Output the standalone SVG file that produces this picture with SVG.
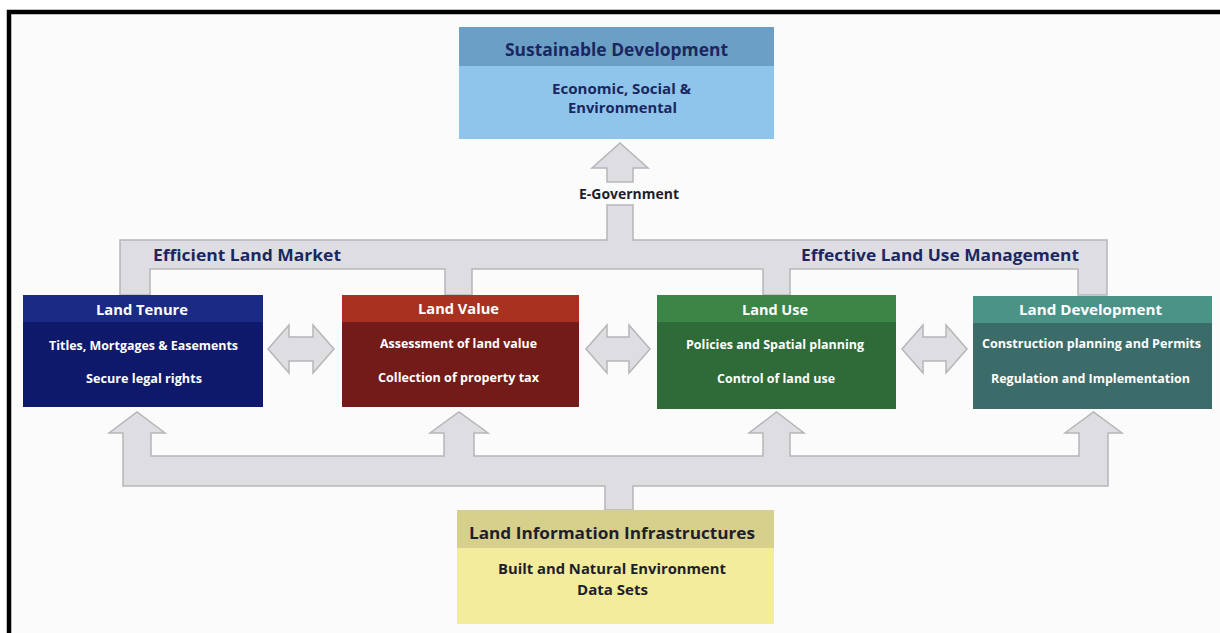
<svg xmlns="http://www.w3.org/2000/svg" width="1220" height="633" viewBox="0 0 1220 633">
<style>
text{font-family:"Open Sans",Lato,"Liberation Sans",sans-serif;font-weight:bold;text-anchor:middle}
.conn{fill:#dedee2;stroke:#b6b6ba;stroke-width:1.5;stroke-linejoin:miter}
.navy{fill:#1a2760}
.white{fill:#ffffff}
.dark{fill:#1e1e2c}
.t14{font-size:14px}
.t12{font-size:12.5px}
</style>
<rect width="1220" height="633" fill="#ffffff"/>
<rect x="11" y="14" width="1209" height="619" fill="#fbfbfb"/>
<path d="M9,633 V12 H1220" fill="none" stroke="#000" stroke-width="4.5"/>

<g id="connectors">
  <polygon class="conn" points="620,143 648,168 633,168 633,182 607,182 607,168 592,168"/>
  <polygon class="conn" points="120,295 120,240 607,240 607,205 633,205 633,240 1107,240 1107,295 1078,295 1078,269 790,269 790,295 763,295 763,269 472,269 472,295 445,295 445,269 150,269 150,295"/>
  <polygon class="conn" points="268,349 289,325 289,337 313,337 313,325 334,349 313,373 313,361 289,361 289,373"/>
  <polygon class="conn" points="586,349 607,325 607,337 629,337 629,325 650,349 629,373 629,361 607,361 607,373"/>
  <polygon class="conn" points="902,349 923,325 923,337 946,337 946,325 967,349 946,373 946,361 923,361 923,373"/>
  <polygon class="conn" points="605,510 605,486 123,486 123,433 109,433 137,412 165,433 151,433 151,456 444,456 444,433 430,433 459,412 488,433 474,433 474,456 763,456 763,433 749,433 776.5,412 804,433 790,433 790,456 1079,456 1079,433 1065,433 1093.5,412 1122,433 1108,433 1108,486 633,486 633,510"/>
  <text class="dark" x="629" y="198.5" font-size="15" textLength="100" lengthAdjust="spacingAndGlyphs">E-Government</text>
  <text class="navy" x="247" y="260.5" font-size="16" textLength="188" lengthAdjust="spacingAndGlyphs">Efficient Land Market</text>
  <text class="navy" x="940" y="260.5" font-size="16" textLength="278" lengthAdjust="spacingAndGlyphs">Effective Land Use Management</text>
</g>

<g id="sustainable">
  <rect x="459" y="27" width="315" height="112" fill="#8fc4eb"/>
  <rect x="459" y="27" width="315" height="39" fill="#6c9fc6"/>
  <text class="navy" x="616.5" y="56" font-size="17" textLength="223" lengthAdjust="spacingAndGlyphs">Sustainable Development</text>
  <text class="navy" x="621.5" y="94" font-size="14" textLength="139" lengthAdjust="spacingAndGlyphs">Economic, Social &amp;</text>
  <text class="navy" x="622.5" y="113" font-size="14" textLength="109" lengthAdjust="spacingAndGlyphs">Environmental</text>
</g>

<g id="land-tenure">
  <rect x="23" y="295" width="240" height="112" fill="#0e196c"/>
  <rect x="23" y="295" width="240" height="27" fill="#1b2a82"/>
  <text class="white t14" x="142" y="315" textLength="92" lengthAdjust="spacingAndGlyphs">Land Tenure</text>
  <text class="white t12" x="143.5" y="349.5" textLength="189" lengthAdjust="spacingAndGlyphs">Titles, Mortgages &amp; Easements</text>
  <text class="white t12" x="144" y="382.5" textLength="116" lengthAdjust="spacingAndGlyphs">Secure legal rights</text>
</g>

<g id="land-value">
  <rect x="342" y="295" width="237" height="112" fill="#731b19"/>
  <rect x="342" y="295" width="237" height="27" fill="#a8321f"/>
  <text class="white t14" x="458.5" y="314" textLength="81" lengthAdjust="spacingAndGlyphs">Land Value</text>
  <text class="white t12" x="458.5" y="347.5" textLength="157" lengthAdjust="spacingAndGlyphs">Assessment of land value</text>
  <text class="white t12" x="458.5" y="381.5" textLength="161" lengthAdjust="spacingAndGlyphs">Collection of property tax</text>
</g>

<g id="land-use">
  <rect x="657" y="295" width="239" height="114" fill="#2e6b39"/>
  <rect x="657" y="295" width="239" height="27" fill="#3c8546"/>
  <text class="white t14" x="775" y="315" textLength="66" lengthAdjust="spacingAndGlyphs">Land Use</text>
  <text class="white t12" x="775" y="348.5" textLength="178" lengthAdjust="spacingAndGlyphs">Policies and Spatial planning</text>
  <text class="white t12" x="776" y="382.5" textLength="118" lengthAdjust="spacingAndGlyphs">Control of land use</text>
</g>

<g id="land-development">
  <rect x="973" y="296" width="239" height="113" fill="#3c6c69"/>
  <rect x="973" y="296" width="239" height="27" fill="#4c9387"/>
  <text class="white t14" x="1090.5" y="315" textLength="143" lengthAdjust="spacingAndGlyphs">Land Development</text>
  <text class="white t12" x="1091.5" y="347.5" textLength="219" lengthAdjust="spacingAndGlyphs">Construction planning and Permits</text>
  <text class="white t12" x="1090.5" y="382.5" textLength="199" lengthAdjust="spacingAndGlyphs">Regulation and Implementation</text>
</g>

<g id="land-information">
  <rect x="457" y="510" width="317" height="114" fill="#f3ec9c"/>
  <rect x="457" y="510" width="317" height="38" fill="#d7cf8c"/>
  <text class="dark" x="612" y="538.5" font-size="16" textLength="286" lengthAdjust="spacingAndGlyphs">Land Information Infrastructures</text>
  <text class="dark" x="612" y="574" font-size="15" textLength="228" lengthAdjust="spacingAndGlyphs">Built and Natural Environment</text>
  <text class="dark" x="612.5" y="595" font-size="15" textLength="71" lengthAdjust="spacingAndGlyphs">Data Sets</text>
</g>
</svg>
